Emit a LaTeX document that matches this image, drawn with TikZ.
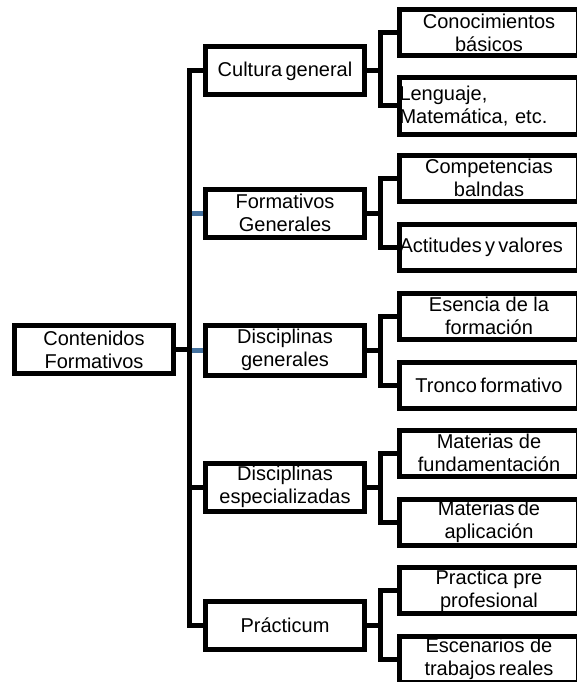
\documentclass[tikz,border=0pt]{standalone}
\usepackage{fontspec}
\setmainfont{Liberation Sans}
\definecolor{zblue}{RGB}{68,114,160}

\begin{document}
\begin{tikzpicture}[x=1pt, y=-1pt, zbox/.style={draw, line width=5pt, minimum width=159pt, minimum height=48pt, inner sep=0pt, align=center, font=\fontsize{20}{23}\selectfont}, zleaf/.style={zbox, minimum width=179pt, minimum height=46pt}, zleft/.style={zleaf, align=left, text width=179pt}, zline/.style={line width=5pt}, zstub/.style={line width=5pt, draw=zblue}]
\useasboundingbox (0,0) rectangle (576,682);
\node[zbox] (cf) at (94,349.5) {Contenidos\\Formativos};
\node[zbox] (cg) at (285,71) {Cultura\,general};
\node[zbox] (fg) at (285,213) {Formativos\\Generales};
\node[zbox, minimum height=50pt] (dg) at (285,350) {Disciplinas\\generales};
\node[zbox] (de) at (285,487) {Disciplinas\\especializadas};
\node[zbox] (pr) at (285,625) {Prácticum};
\node[zleaf] (c1) at (489,33) {Conocimientos\\básicos};
\node[zleft, minimum height=57pt] (c2) at (489,106) {Lenguaje,\\Matemática, etc.};
\node[zleaf] (c3) at (489,178) {Competencias\\balndas};
\node[zleft] (c4) at (489,247) {Actitudes\,y\,valores};
\node[zleaf] (c5) at (489,316) {Esencia de la\\formación};
\node[zleaf] (c6) at (489,385) {Tronco\,formativo};
\node[zleaf] (c7) at (489,453) {Materias de\\fundamentación};
\node[zleaf] (c8) at (489,522) {Materias\,de\\aplicación};
\node[zleaf] (c9) at (489,590.5) {Practica pre\\profesional};
\node[zleaf] (c10) at (489,659) {Escenarios de\\trabajos\,reales};
\coordinate (tr) at (189,349.5);
\draw[zstub] (fg.west) -- (fg.west -| tr);
\draw[zstub] (dg.west) -- (dg.west -| tr);
\draw[zline] (cg.west) -| (tr) |- (pr.west);
\draw[zline] (cf.east) -- (tr);
\draw[zline] (de.west) -- (de.west -| tr);
\foreach \p/\a/\b in {cg/c1/c2, fg/c3/c4, dg/c5/c6, de/c7/c8, pr/c9/c10}{
  \draw[zline] (\p.east) -- ++(13,0) coordinate (k);
  \draw[zline] (\a.west) -| (k) |- (\b.west);
}
\end{tikzpicture}
\end{document}
